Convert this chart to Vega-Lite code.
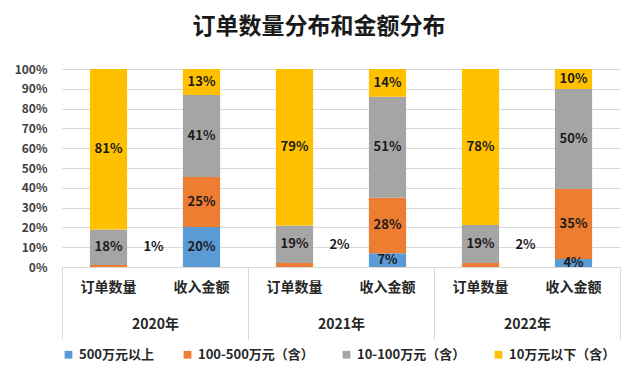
{
  "$schema": "https://vega.github.io/schema/vega-lite/v6.json",
  "width": 558,
  "height": 198,
  "autosize": {"type": "none"},
  "padding": {"left": 62, "top": 69, "right": 20, "bottom": 117},
  "background": "white",
  "config": {
    "font": "Noto Sans CJK SC",
    "view": {"stroke": null},
    "axisY": {
      "title": null, "format": ".0%", "tickCount": 10,
      "labelOverlap": false, "labelFlush": false,
      "domain": false, "ticks": false, "grid": true, "gridColor": "#d9d9d9", "labelPadding": 15,
      "labelFontSize": 12, "labelColor": "#404040", "labelFontWeight": "bold"
    }
  },
  "title": {
    "text": "订单数量分布和金额分布",
    "fontSize": 23,
    "fontWeight": "bold",
    "color": "#1a1a1a",
    "anchor": "middle",
    "dx": -22,
    "offset": 24
  },
  "data": {
    "values": [
      {"year": "2020年", "type": "订单数量", "key": "2020|订单数量", "cat": "500万元以上", "o": 1, "value": 0},
      {"year": "2020年", "type": "订单数量", "key": "2020|订单数量", "cat": "100-500万元（含）", "o": 2, "value": 0.01},
      {"year": "2020年", "type": "订单数量", "key": "2020|订单数量", "cat": "10-100万元（含）", "o": 3, "value": 0.18},
      {"year": "2020年", "type": "订单数量", "key": "2020|订单数量", "cat": "10万元以下（含）", "o": 4, "value": 0.81},
      {"year": "2020年", "type": "收入金额", "key": "2020|收入金额", "cat": "500万元以上", "o": 1, "value": 0.20},
      {"year": "2020年", "type": "收入金额", "key": "2020|收入金额", "cat": "100-500万元（含）", "o": 2, "value": 0.25},
      {"year": "2020年", "type": "收入金额", "key": "2020|收入金额", "cat": "10-100万元（含）", "o": 3, "value": 0.41},
      {"year": "2020年", "type": "收入金额", "key": "2020|收入金额", "cat": "10万元以下（含）", "o": 4, "value": 0.13},
      {"year": "2021年", "type": "订单数量", "key": "2021|订单数量", "cat": "500万元以上", "o": 1, "value": 0},
      {"year": "2021年", "type": "订单数量", "key": "2021|订单数量", "cat": "100-500万元（含）", "o": 2, "value": 0.02},
      {"year": "2021年", "type": "订单数量", "key": "2021|订单数量", "cat": "10-100万元（含）", "o": 3, "value": 0.19},
      {"year": "2021年", "type": "订单数量", "key": "2021|订单数量", "cat": "10万元以下（含）", "o": 4, "value": 0.79},
      {"year": "2021年", "type": "收入金额", "key": "2021|收入金额", "cat": "500万元以上", "o": 1, "value": 0.07},
      {"year": "2021年", "type": "收入金额", "key": "2021|收入金额", "cat": "100-500万元（含）", "o": 2, "value": 0.28},
      {"year": "2021年", "type": "收入金额", "key": "2021|收入金额", "cat": "10-100万元（含）", "o": 3, "value": 0.51},
      {"year": "2021年", "type": "收入金额", "key": "2021|收入金额", "cat": "10万元以下（含）", "o": 4, "value": 0.14},
      {"year": "2022年", "type": "订单数量", "key": "2022|订单数量", "cat": "500万元以上", "o": 1, "value": 0},
      {"year": "2022年", "type": "订单数量", "key": "2022|订单数量", "cat": "100-500万元（含）", "o": 2, "value": 0.02},
      {"year": "2022年", "type": "订单数量", "key": "2022|订单数量", "cat": "10-100万元（含）", "o": 3, "value": 0.19},
      {"year": "2022年", "type": "订单数量", "key": "2022|订单数量", "cat": "10万元以下（含）", "o": 4, "value": 0.78},
      {"year": "2022年", "type": "收入金额", "key": "2022|收入金额", "cat": "500万元以上", "o": 1, "value": 0.04},
      {"year": "2022年", "type": "收入金额", "key": "2022|收入金额", "cat": "100-500万元（含）", "o": 2, "value": 0.35},
      {"year": "2022年", "type": "收入金额", "key": "2022|收入金额", "cat": "10-100万元（含）", "o": 3, "value": 0.50},
      {"year": "2022年", "type": "收入金额", "key": "2022|收入金额", "cat": "10万元以下（含）", "o": 4, "value": 0.10}
    ]
  },
  "transform": [
    {"stack": "value", "groupby": ["key"], "sort": [{"field": "o", "order": "ascending"}], "as": ["v0", "v1"], "offset": "normalize"}
  ],
  "layer": [
    {
      "encoding": {
        "x": {
          "field": "key", "type": "nominal",
          "scale": {"domain": ["2020|订单数量", "2020|收入金额", "2021|订单数量", "2021|收入金额", "2022|订单数量", "2022|收入金额"], "paddingInner": 0.6, "paddingOuter": 0.3},
          "axis": {
            "orient": "bottom", "title": null, "labelAngle": 0, "ticks": false, "domain": false,
            "labelExpr": "split(datum.label, '|')[1]",
            "labelFontSize": 14, "labelFontWeight": "bold", "labelColor": "#262626", "labelPadding": 13
          }
        }
      },
      "layer": [
        {
          "mark": {"type": "bar"},
          "encoding": {
            "y": {"field": "v0", "type": "quantitative", "scale": {"domain": [0, 1]}},
            "y2": {"field": "v1"},
            "color": {
              "field": "cat", "type": "nominal",
              "scale": {
                "domain": ["500万元以上", "100-500万元（含）", "10-100万元（含）", "10万元以下（含）"],
                "range": ["#5B9BD5", "#ED7D31", "#A5A5A5", "#FFC000"]
              },
              "legend": {
                "title": null, "orient": "bottom", "direction": "horizontal",
                "symbolType": "square", "symbolSize": 60, "symbolStrokeWidth": 0,
                "labelFontSize": 13, "labelFontWeight": "bold", "labelColor": "#262626",
                "columnPadding": 26, "offset": 8
              }
            }
          }
        },
        {
          "transform": [
            {"fold": ["v0", "v1"], "as": ["edge", "pos"]},
            {"aggregate": [{"op": "mean", "field": "pos", "as": "mid"}], "groupby": ["key", "cat", "value", "type", "o"]},
            {"filter": "datum.value >= 0.03"}
          ],
          "mark": {"type": "text", "fontSize": 13, "fontWeight": "bold", "color": "#1a1a1a"},
          "encoding": {
            "y": {"field": "mid", "type": "quantitative"},
            "text": {"field": "value", "type": "quantitative", "format": ".0%"}
          }
        },
        {
          "transform": [{"filter": "datum.type == '订单数量' && datum.o == 2"}],
          "mark": {"type": "text", "fontSize": 13, "fontWeight": "bold", "color": "#1a1a1a", "dx": 45, "dy": -18},
          "encoding": {
            "y": {"field": "v1", "type": "quantitative"},
            "text": {"field": "value", "type": "quantitative", "format": ".0%"}
          }
        }
      ]
    },
    {
      "mark": {"type": "text", "text": ""},
      "encoding": {
        "x": {
          "field": "year", "type": "nominal",
          "scale": {"paddingInner": 0, "paddingOuter": 0},
          "axis": {
            "orient": "bottom", "title": null, "labelAngle": 0,
            "tickBand": "extent", "tickSize": 72, "tickColor": "#d9d9d9",
            "domainColor": "#d9d9d9", "labelPadding": -22,
            "labelFontSize": 14, "labelFontWeight": "bold", "labelColor": "#262626"
          }
        }
      }
    }
  ],
  "resolve": {"scale": {"x": "independent"}, "axis": {"x": "independent"}}
}
